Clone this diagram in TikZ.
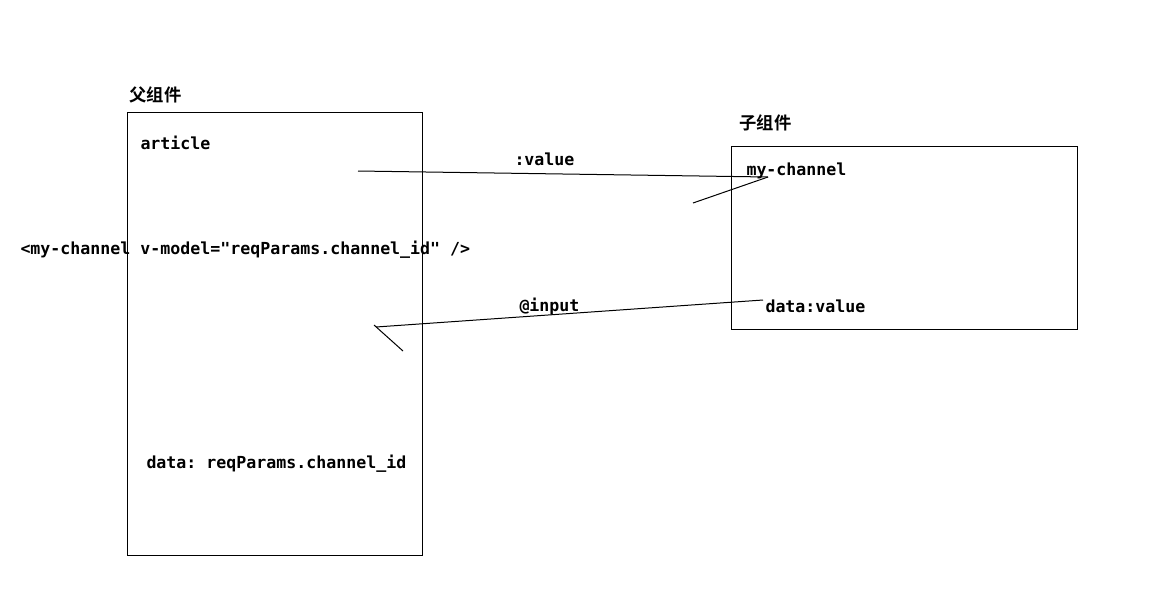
\documentclass[tikz,border=0pt]{standalone}
\usepackage{fontspec}
\setmonofont{DejaVu Sans Mono}
\newfontfamily\cjk{Noto Sans CJK SC}[BoldFont={* Bold}]
\newcommand{\codefont}{\ttfamily\bfseries\fontsize{12.45}{14}\selectfont}
\newcommand{\headfont}{\cjk\bfseries\fontsize{13}{15}\selectfont}

\tikzset{every picture/.style={line width=0.75pt}}

\begin{document}
\begin{tikzpicture}[
            x=0.75pt,
            y=0.75pt,
            yscale=-1,
            xscale=1,
            every node/.style={text=black},
            codetext/.style={font=\codefont, anchor=west, inner sep=0pt},
            headtext/.style={font=\headfont, anchor=west, inner sep=0pt},
            line width=0.75pt
        ]
            \useasboundingbox (0,0) rectangle (1160,597);
            % boxes
            \draw   (127,112) -- (422,112) -- (422,555) -- (127,555) -- cycle ;
            \draw   (731,146) -- (1077,146) -- (1077,329) -- (731,329) -- cycle ;

            \node (parent) [headtext] at (129,95) {父组件};
            \node (child) [headtext] at (739,123) {子组件};

            \node (article) [codetext] at (140,143) {article};
            \node (mychannel) [codetext] at (746,171) {my-channel};
            \node (datavalue) [codetext] at (765,306) {data:value};
            \node (tag) [codetext] at (20,250) {<my-channel v-model="reqParams.channel\_id" />};
            \node (dataid) [codetext] at (146,464) {data: reqParams.channel\_id};
            \node (valuelbl) [codetext] at (514,159) {:value};
            \node (inputlbl) [codetext] at (519,306) {@input};

            % connectors
            \coordinate (vstart) at (358,171);
            \coordinate (vend) at (768,177);
            \coordinate (vtick) at (693,203);
            \coordinate (istart) at (763,300);
            \coordinate (iend) at (376,327);
            \coordinate (icorner) at (374,325);
            \coordinate (itick) at (403,351);
            \draw    (istart) -- (iend) ;
            \draw    (vstart) -- (vend) ;
            \draw    (vtick) -- (vend) ;
            \draw    (icorner) -- (itick) ;
        \end{tikzpicture}
\end{document}
